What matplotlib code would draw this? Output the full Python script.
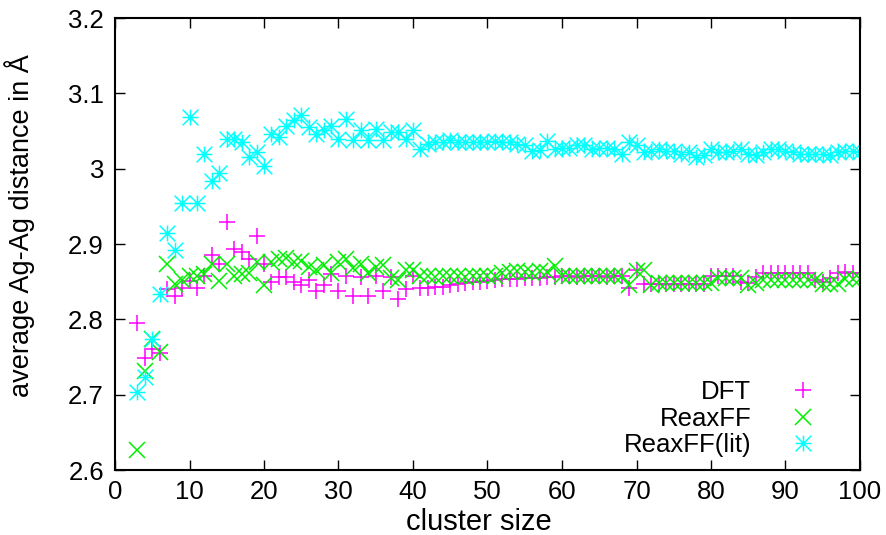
import matplotlib
matplotlib.use("Agg")
import matplotlib.pyplot as plt
from matplotlib.path import Path
import numpy as np

plt.rcParams['font.family'] = ['Liberation Sans', 'DejaVu Sans']

cluster_size = list(range(3, 101))

dft = [2.795, 2.749, 2.760, 2.755, 2.840, 2.831, 2.842, 2.851, 2.842, 2.858,
       2.885, 2.874, 2.929, 2.893, 2.889, 2.880, 2.911, 2.874, 2.849, 2.856,
       2.856, 2.849, 2.846, 2.852, 2.838, 2.845, 2.860, 2.838, 2.858, 2.831,
       2.856, 2.831, 2.858, 2.838, 2.856, 2.827, 2.840, 2.858, 2.842, 2.842,
       2.843, 2.843, 2.845, 2.847, 2.848, 2.849, 2.850, 2.851, 2.852, 2.853,
       2.854, 2.854, 2.855, 2.855, 2.855, 2.856, 2.856, 2.857, 2.857, 2.856,
       2.857, 2.858, 2.857, 2.856, 2.857, 2.858, 2.842, 2.866, 2.847, 2.847,
       2.847, 2.847, 2.847, 2.847, 2.847, 2.847, 2.847, 2.858, 2.858, 2.858,
       2.858, 2.850, 2.848, 2.856, 2.862, 2.862, 2.862, 2.862, 2.862, 2.862,
       2.862, 2.852, 2.850, 2.855, 2.862, 2.863, 2.862, 2.862]

reaxff = [2.627, 2.732, 2.774, 2.756, 2.874, 2.847, 2.852, 2.857, 2.858, 2.860,
          2.874, 2.851, 2.874, 2.858, 2.860, 2.862, 2.876, 2.845, 2.876, 2.880,
          2.882, 2.876, 2.878, 2.870, 2.866, 2.872, 2.862, 2.876, 2.880, 2.868,
          2.873, 2.862, 2.869, 2.872, 2.855, 2.852, 2.866, 2.865, 2.857, 2.857,
          2.856, 2.857, 2.858, 2.857, 2.856, 2.857, 2.858, 2.857, 2.858, 2.862,
          2.863, 2.864, 2.863, 2.862, 2.864, 2.863, 2.871, 2.858, 2.858, 2.858,
          2.858, 2.858, 2.858, 2.858, 2.858, 2.858, 2.845, 2.864, 2.866, 2.846,
          2.848, 2.848, 2.848, 2.848, 2.848, 2.848, 2.848, 2.848, 2.855, 2.855,
          2.855, 2.855, 2.846, 2.848, 2.852, 2.852, 2.852, 2.852, 2.852, 2.852,
          2.852, 2.852, 2.847, 2.847, 2.847, 2.853, 2.853, 2.853]

reaxff_lit = [2.704, 2.724, 2.774, 2.834, 2.914, 2.892, 2.955, 3.069, 2.955, 3.020,
              2.983, 2.994, 3.040, 3.040, 3.035, 3.015, 3.022, 3.004, 3.046, 3.042,
              3.057, 3.064, 3.071, 3.055, 3.046, 3.051, 3.057, 3.040, 3.066, 3.038,
              3.051, 3.038, 3.053, 3.038, 3.049, 3.049, 3.040, 3.051, 3.026, 3.033,
              3.035, 3.035, 3.038, 3.035, 3.035, 3.035, 3.035, 3.035, 3.037, 3.035,
              3.035, 3.033, 3.031, 3.024, 3.025, 3.037, 3.026, 3.028, 3.028, 3.031,
              3.031, 3.026, 3.028, 3.028, 3.026, 3.020, 3.035, 3.031, 3.022, 3.024,
              3.026, 3.024, 3.024, 3.020, 3.022, 3.016, 3.018, 3.026, 3.022, 3.022,
              3.024, 3.026, 3.020, 3.018, 3.022, 3.026, 3.026, 3.024, 3.022, 3.020,
              3.020, 3.020, 3.020, 3.018, 3.022, 3.024, 3.024, 3.022]

x_ticks = [0, 10, 20, 30, 40, 50, 60, 70, 80, 90, 100]
y_ticks = [2.6, 2.7, 2.8, 2.9, 3.0, 3.1, 3.2]
y_tick_labels = ["2.6", "2.7", "2.8", "2.9", "3", "3.1", "3.2"]

c_dft = '#ff00ff'
c_reax = '#00ee00'
c_lit = '#00ffff'

# gnuplot-style asterisk: plus and cross overlaid
star_path = Path(
    [(-1, 0), (1, 0), (0, -1), (0, 1), (-1, -1), (1, 1), (-1, 1), (1, -1)],
    [Path.MOVETO, Path.LINETO] * 4)

fig = plt.figure(figsize=(8.87, 5.35), dpi=100)
ax = fig.add_axes([115/887, 1-470/535, 745/887, 452/535])

ms = 11.3
ax.plot(cluster_size, dft, linestyle='none', marker='+', ms=ms, mew=1.1,
        color=c_dft, label='DFT')
ax.plot(cluster_size, reaxff, linestyle='none', marker='x', ms=ms, mew=1.1,
        color=c_reax, label='ReaxFF')
ax.plot(cluster_size, reaxff_lit, linestyle='none', marker=star_path, ms=ms, mew=1.1,
        color=c_lit, markerfacecolor='none', label='ReaxFF(lit)')

ax.set_xlim(0, 100)
ax.set_ylim(2.6, 3.2)
ax.set_xticks(x_ticks)
ax.set_yticks(y_ticks)
ax.set_yticklabels(y_tick_labels)
ax.tick_params(direction='in', length=7, width=1, labelsize=18.5,
               top=True, right=True)
ax.tick_params(axis='y', pad=8)
ax.tick_params(axis='x', pad=7)
for s in ax.spines.values():
    s.set_linewidth(1.5)

ax.set_xlabel('cluster size', fontsize=21)
ax.set_ylabel('average Ag-Ag distance in Å', fontsize=19.5)
ax.xaxis.set_label_coords(0.488, -(508 - 470) / 452)
ax.yaxis.set_label_coords(-(115 - 35) / 745, 0.54)

leg = ax.legend(loc='lower right', bbox_to_anchor=(0.975, 0.0),
                frameon=False, markerfirst=False, numpoints=1,
                handlelength=2.0, handletextpad=1.0, labelspacing=0.1,
                borderpad=0, fontsize=18.5)

fig.savefig('out.png', dpi=100)
